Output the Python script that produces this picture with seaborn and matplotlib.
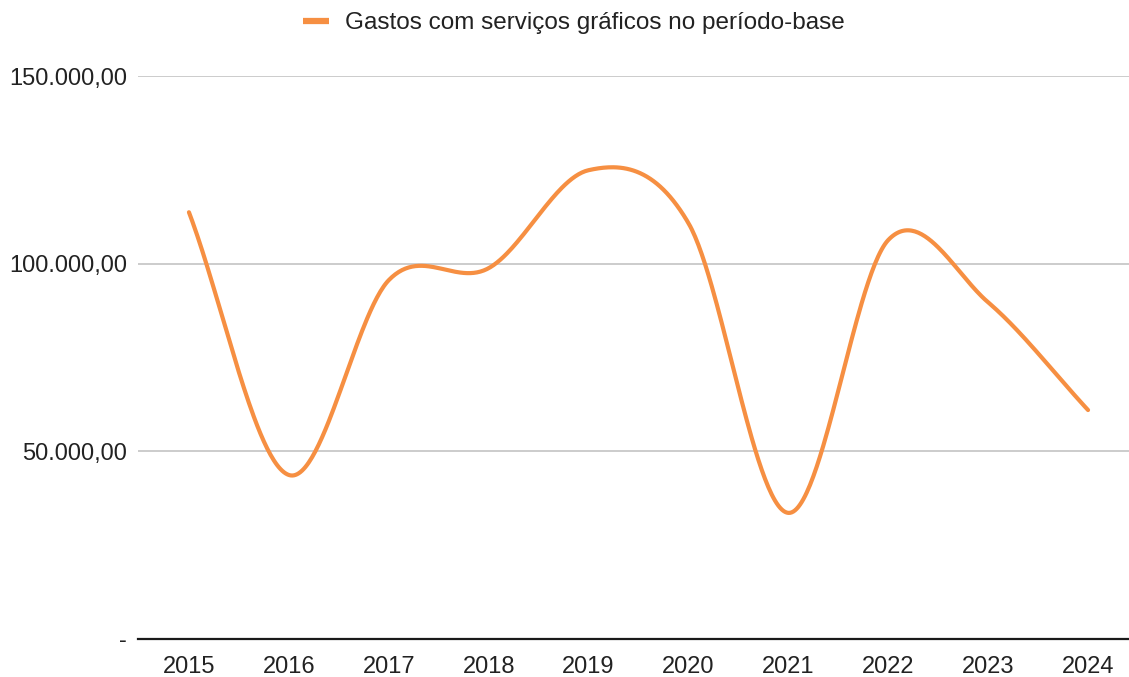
import numpy as np
import pandas as pd
import matplotlib
matplotlib.use("Agg")
import matplotlib.pyplot as plt
from matplotlib.lines import Line2D
import seaborn as sns

# Annual spending on graphic services (R$)
years = ["2015", "2016", "2017", "2018", "2019", "2020", "2021", "2022", "2023", "2024"]
gastos = [113700, 43700, 95600, 98800, 124900, 110800, 33600, 106300, 89700, 61000]
y_ticks = [0, 50000, 100000, 150000]
y_tick_labels = ["-", "50.000,00", "100.000,00", "150.000,00"]
series_name = "Gastos com serviços gráficos no período-base"

LINE_COLOR = "#F68F42"


def catmull_rom(values, steps=60):
    """Smooth curve through every point (uniform Catmull-Rom / Hermite)."""
    p = np.asarray(values, dtype=float)
    n = len(p)
    m = np.empty(n)
    m[1:-1] = (p[2:] - p[:-2]) / 2.0
    m[0] = p[1] - p[0]
    m[-1] = p[-1] - p[-2]
    xs, ys = [], []
    for i in range(n - 1):
        t = np.linspace(0, 1, steps, endpoint=(i == n - 2))
        h00 = 2 * t**3 - 3 * t**2 + 1
        h10 = t**3 - 2 * t**2 + t
        h01 = -2 * t**3 + 3 * t**2
        h11 = t**3 - t**2
        ys.append(h00 * p[i] + h10 * m[i] + h01 * p[i + 1] + h11 * m[i + 1])
        xs.append(i + t)
    return np.concatenate(xs), np.concatenate(ys)


sx, sy = catmull_rom(gastos)
curve = pd.DataFrame({"pos": sx, "valor": sy})

sns.set_theme(style="white")
plt.rcParams["font.family"] = ["Liberation Sans", "DejaVu Sans"]

fig = plt.figure(figsize=(11.29, 6.77), dpi=100)
ax = fig.add_axes([138 / 1129, 1 - 639 / 677, 1 - 138 / 1129, (639 - 76) / 677])

sns.lineplot(data=curve, x="pos", y="valor", ax=ax, color=LINE_COLOR,
             linewidth=3.0, sort=False, legend=False)

ax.set_xlim(-0.51, 9.41)
ax.set_ylim(0, 150000)
ax.set_xticks(range(len(years)))
ax.set_xticklabels(years)
ax.set_yticks(y_ticks)
ax.set_yticklabels(y_tick_labels)
ax.tick_params(axis="both", length=0, labelsize=17, colors="#222222")
ax.tick_params(axis="y", pad=8)
ax.tick_params(axis="x", pad=12)
ax.set_xlabel("")
ax.set_ylabel("")

ax.yaxis.grid(True, color="#c8c8c8", linewidth=1.3)
ax.xaxis.grid(False)
ax.set_axisbelow(True)
for side in ["top", "right", "left"]:
    ax.spines[side].set_visible(False)
ax.spines["bottom"].set_color("#1a1a1a")
ax.spines["bottom"].set_linewidth(1.6)
ax.spines["bottom"].set_zorder(3)

handle = Line2D([0], [0], color=LINE_COLOR, linewidth=4.5, solid_capstyle="butt")
fig.legend([handle], [series_name], loc="center", bbox_to_anchor=(0.5084, 1 - 23 / 677),
           frameon=False, fontsize=17.5, handlelength=1.05, handletextpad=0.65,
           labelcolor="#222222")

fig.savefig("out.png", dpi=100, facecolor="white")
